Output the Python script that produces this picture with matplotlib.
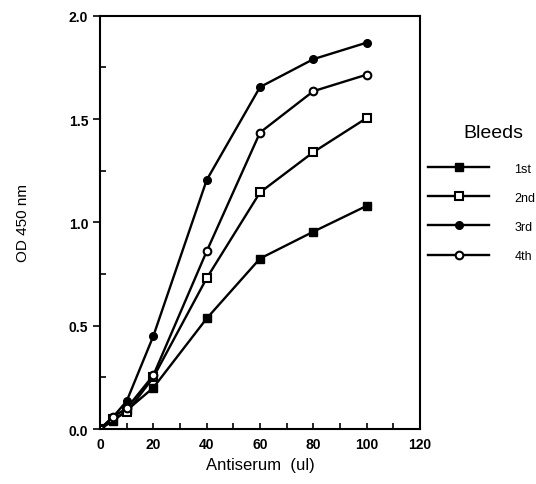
import matplotlib
matplotlib.use("Agg")
import matplotlib.pyplot as plt
from matplotlib.ticker import MultipleLocator

plt.rcParams['font.family'] = ['Liberation Sans', 'DejaVu Sans']

# Antiserum volume (ul)
antiserum = [0, 5, 10, 20, 40, 60, 80, 100]

# OD 450 nm for each bleed
bleed_1st = [0.0, 0.04, 0.09, 0.20, 0.535, 0.825, 0.955, 1.08]
bleed_2nd = [0.0, 0.05, 0.08, 0.25, 0.73, 1.145, 1.34, 1.505]
bleed_3rd = [0.0, 0.06, 0.135, 0.45, 1.205, 1.655, 1.79, 1.87]
bleed_4th = [0.0, 0.06, 0.10, 0.26, 0.86, 1.435, 1.635, 1.715]

labels = ['1st', '2nd', '3rd', '4th']

fig = plt.figure(figsize=(5.36, 4.85), dpi=100)
ax = fig.add_axes([0.1866, 0.1134, 0.597, 0.852])

ax.plot(antiserum, bleed_1st, color='black', lw=1.7, marker='s', ms=5.5,
        mfc='black', mec='black', label=labels[0])
ax.plot(antiserum, bleed_2nd, color='black', lw=1.7, marker='s', ms=5.5,
        mfc='white', mec='black', mew=1.5, label=labels[1])
ax.plot(antiserum, bleed_3rd, color='black', lw=1.7, marker='o', ms=5.5,
        mfc='black', mec='black', label=labels[2])
ax.plot(antiserum, bleed_4th, color='black', lw=1.7, marker='o', ms=5.5,
        mfc='white', mec='black', mew=1.5, label=labels[3])

ax.set_xlim(0, 120)
ax.set_ylim(0, 2.0)
ax.xaxis.set_major_locator(MultipleLocator(20))
ax.xaxis.set_minor_locator(MultipleLocator(10))
ax.yaxis.set_major_locator(MultipleLocator(0.5))
ax.yaxis.set_minor_locator(MultipleLocator(0.25))
ax.yaxis.set_major_formatter(matplotlib.ticker.FormatStrFormatter('%.1f'))

ax.tick_params(axis='x', which='both', direction='in', length=4, width=1.2,
               labelsize=10, pad=6)
ax.tick_params(axis='y', which='major', direction='out', length=5, width=1.2,
               labelsize=10)
ax.tick_params(axis='y', which='minor', direction='in', length=4, width=1.2)
for lab in ax.get_xticklabels() + ax.get_yticklabels():
    lab.set_fontweight('bold')

for sp in ax.spines.values():
    sp.set_linewidth(1.5)

ax.set_xlabel('Antiserum  (ul)', fontsize=12, labelpad=4)
ax.set_ylabel('OD 450 nm', fontsize=11, labelpad=28)

# legend title placed by hand, entries below it
ax.text(1.228, 0.717, 'Bleeds', transform=ax.transAxes, fontsize=14,
        ha='center', va='center')
leg = ax.legend(loc='upper left', bbox_to_anchor=(0.99, 0.672), frameon=False,
                handlelength=4.9, fontsize=9, labelspacing=1.37,
                handletextpad=2.0)

fig.savefig('out.png', dpi=100)
